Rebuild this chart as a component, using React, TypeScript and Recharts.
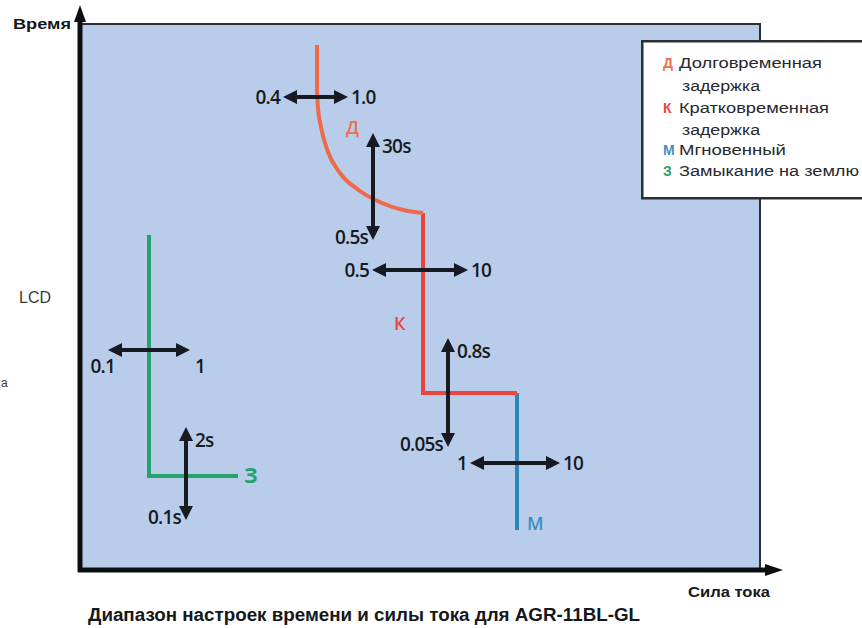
import React from "react";
import {
  ComposedChart,
  Line,
  XAxis,
  YAxis,
  ReferenceArea,
  ReferenceLine,
  ReferenceDot,
  Legend,
} from "recharts";

// schematic units: x = current (0..680), y = time (0..546)
const longDelayTop = [
  { x: 237, y: 525 },
  { x: 237, y: 478 },
];
const longDelayCurve = [
  { x: 237, y: 478 },
  { x: 238, y: 462 },
  { x: 241, y: 443 },
  { x: 248, y: 418 },
  { x: 260, y: 397 },
  { x: 280, y: 379 },
  { x: 302, y: 367 },
  { x: 323, y: 360 },
  { x: 343, y: 357 },
];
const shortDelay = [
  { x: 343, y: 357 },
  { x: 343, y: 177 },
  { x: 437, y: 177 },
];
const instant = [
  { x: 437, y: 177 },
  { x: 437, y: 40 },
];
const groundFault = [
  { x: 69, y: 335 },
  { x: 69, y: 94 },
  { x: 158, y: 94 },
];

// setting ranges: from = low value, to = high value
const rangeArrows = [
  { x1: 203, y1: 473, x2: 268, y2: 473, from: "0.4", to: "1.0", below: false },
  { x1: 293, y1: 330, x2: 293, y2: 437, from: "0.5s", to: "30s", below: false },
  { x1: 292, y1: 300, x2: 388, y2: 300, from: "0.5", to: "10", below: false },
  { x1: 368, y1: 123, x2: 368, y2: 232, from: "0.05s", to: "0.8s", below: false },
  { x1: 390, y1: 107, x2: 480, y2: 107, from: "1", to: "10", below: false },
  { x1: 28, y1: 220, x2: 110, y2: 220, from: "0.1", to: "1", below: true },
  { x1: 106, y1: 50, x2: 106, y2: 143, from: "0.1s", to: "2s", below: false },
];

const curveTags = [
  { x: 266, y: 443, text: "Д", color: "#ef6f50" },
  { x: 314, y: 247, text: "К", color: "#e8453c" },
  { x: 447, y: 47, text: "М", color: "#3f8fc4" },
  { x: 164, y: 94, text: "З", color: "#23a26e" },
];

const legendItems = [
  { tag: "Д", color: "#ef6f50", lines: ["Долговременная", "задержка"] },
  { tag: "К", color: "#e8453c", lines: ["Кратковременная", "задержка"] },
  { tag: "М", color: "#3f8fc4", lines: ["Мгновенный"] },
  { tag: "З", color: "#23a26e", lines: ["Замыкание на землю"] },
];
const legendWidths: Record<string, number> = {
  "Долговременная": 143,
  "задержка": 78,
  "Кратковременная": 150,
  "Мгновенный": 107,
  "Замыкание на землю": 180,
};

const INK = "#171a22";
const numFont = "'Open Sans', sans-serif";
const sans = "'Liberation Sans', Arial, sans-serif";

const NumText = ({ x, y, anchor, children }: any) => (
  <text x={x} y={y} textAnchor={anchor} fill={INK} fontSize={19} fontWeight={600} fontFamily={numFont} letterSpacing={-0.8}>
    {children}
  </text>
);

const ArrowShape = (props: any) => {
  const { x1, y1, x2, y2, arrow } = props;
  const horiz = Math.abs(y1 - y2) < 1;
  const head = 14;
  const hw = 7;
  let body, heads, labels;
  if (horiz) {
    const y = y1;
    const l = Math.min(x1, x2);
    const r = Math.max(x1, x2);
    body = <line x1={l + head - 1} y1={y} x2={r - head + 1} y2={y} stroke={INK} strokeWidth={4} />;
    heads = (
      <>
        <polygon points={`${l},${y} ${l + head},${y - hw} ${l + head},${y + hw}`} fill={INK} />
        <polygon points={`${r},${y} ${r - head},${y - hw} ${r - head},${y + hw}`} fill={INK} />
      </>
    );
    const dy = arrow.below ? 23 : 7;
    labels = (
      <>
        <NumText x={arrow.below ? l + 7 : l - 3} y={y + dy} anchor="end">{arrow.from}</NumText>
        <NumText x={arrow.below ? r + 5 : r + 3} y={y + dy} anchor="start">{arrow.to}</NumText>
      </>
    );
  } else {
    const x = x1;
    const t = Math.min(y1, y2);
    const b = Math.max(y1, y2);
    body = <line x1={x} y1={t + head - 1} x2={x} y2={b - head + 1} stroke={INK} strokeWidth={4} />;
    heads = (
      <>
        <polygon points={`${x},${t} ${x - hw},${t + head} ${x + hw},${t + head}`} fill={INK} />
        <polygon points={`${x},${b} ${x - hw},${b - head} ${x + hw},${b - head}`} fill={INK} />
      </>
    );
    labels = (
      <>
        <NumText x={x + 9} y={t + 20} anchor="start">{arrow.to}</NumText>
        <NumText x={x - 5} y={b + 4} anchor="end">{arrow.from}</NumText>
      </>
    );
  }
  return (
    <g>
      {body}
      {heads}
      {labels}
    </g>
  );
};

const AxisArrow = (props: any) => {
  const { x1, y1, x2, y2 } = props;
  const vertical = Math.abs(x1 - x2) < 1;
  if (vertical) {
    const t = Math.min(y1, y2);
    const b = Math.max(y1, y2);
    return (
      <g>
        <line x1={x1} y1={t + 14} x2={x1} y2={b + 2} stroke="#0c0e12" strokeWidth={5} />
        <polygon points={`${x1},${t} ${x1 - 6},${t + 17} ${x1 + 6},${t + 17}`} fill="#0c0e12" />
      </g>
    );
  }
  const l = Math.min(x1, x2);
  const r = Math.max(x1, x2);
  return (
    <g>
      <line x1={l - 2} y1={y1} x2={r - 14} y2={y1} stroke="#0c0e12" strokeWidth={5} />
      <polygon points={`${r},${y1} ${r - 18},${y1 - 6} ${r - 18},${y1 + 6}`} fill="#0c0e12" />
    </g>
  );
};

const TagLabel = (props: any) => {
  const { cx, cy, tag } = props;
  const bold = tag.text === "З";
  return (
    <text
      x={cx}
      y={cy + 7}
      fill={tag.color}
      fontSize={bold ? 21 : 18}
      fontWeight={bold ? 700 : 600}
      fontFamily={numFont}
      textAnchor="start"
    >
      {tag.text}
    </text>
  );
};

const LegendBox = () => {
  let row = 0;
  const baselines = [28, 51, 73, 95, 115, 136];
  return (
    <svg width={230} height={162} style={{ display: "block" }}>
      <rect x={1.25} y={1.25} width={250} height={157} fill="#fff" stroke="#2b2e35" strokeWidth={2.5} />
      {legendItems.map((it) =>
        it.lines.map((ln, i) => {
          const y = baselines[row++];
          return (
            <g key={ln + y}>
              {i === 0 && (
                <text x={22} y={y} fill={it.color} fontSize={14} fontWeight={700} fontFamily={sans}>
                  {it.tag}
                </text>
              )}
              <text
                x={i === 0 ? 38 : 41}
                y={y}
                fill="#26282d"
                fontSize={14}
                fontFamily={sans}
                textLength={legendWidths[ln]}
                lengthAdjust="spacingAndGlyphs"
              >
                {ln}
              </text>
            </g>
          );
        })
      )}
    </svg>
  );
};

export default function App() {
  return (
    <div style={{ position: "absolute", left: 0, top: 0, width: 862, height: 628, background: "#fff", overflow: "hidden" }}>
      <ComposedChart width={862} height={628} margin={{ top: 24, right: 102, bottom: 58, left: 80 }}>
        <XAxis type="number" dataKey="x" domain={[0, 680]} hide allowDataOverflow />
        <YAxis type="number" dataKey="y" domain={[0, 546]} hide allowDataOverflow />
        <ReferenceArea x1={0} x2={680} y1={0} y2={546} fill="#b9cdea" fillOpacity={1} stroke="#2b2e35" strokeWidth={2} ifOverflow="visible" />
        <Legend
          layout="horizontal"
          verticalAlign="middle"
          align="center"
          content={() => <LegendBox />}
          wrapperStyle={{ position: "absolute", left: 641, top: 40, width: 230, height: 162 }}
        />
        <Line data={groundFault} dataKey="y" type="linear" stroke="#23a26e" strokeWidth={4} dot={false} isAnimationActive={false} />
        <Line data={instant} dataKey="y" type="linear" stroke="#2a88b5" strokeWidth={4} dot={false} isAnimationActive={false} />
        <Line data={shortDelay} dataKey="y" type="linear" stroke="#e8453c" strokeWidth={4} dot={false} isAnimationActive={false} />
        <Line data={longDelayTop} dataKey="y" type="linear" stroke="#ef6a4a" strokeWidth={4} dot={false} isAnimationActive={false} />
        <Line data={longDelayCurve} dataKey="y" type="monotoneX" stroke="#ef6a4a" strokeWidth={4} dot={false} isAnimationActive={false} />
        {rangeArrows.map((a, i) => (
          <ReferenceLine
            key={i}
            segment={[
              { x: a.x1, y: a.y1 },
              { x: a.x2, y: a.y2 },
            ]}
            ifOverflow="visible"
            shape={(p: any) => <ArrowShape {...p} arrow={a} />}
          />
        ))}
        {curveTags.map((t) => (
          <ReferenceDot key={t.text} x={t.x} y={t.y} r={0} ifOverflow="visible" shape={(p: any) => <TagLabel {...p} tag={t} />} />
        ))}
        <ReferenceLine segment={[{ x: 0, y: 0 }, { x: 0, y: 565 }]} ifOverflow="visible" shape={(p: any) => <AxisArrow {...p} />} />
        <ReferenceLine segment={[{ x: 0, y: 0 }, { x: 703, y: 0 }]} ifOverflow="visible" shape={(p: any) => <AxisArrow {...p} />} />
      </ComposedChart>
      <svg width={862} height={628} style={{ position: "absolute", left: 0, top: 0, pointerEvents: "none" }}>
        <text x={71} y={29} textAnchor="end" fontSize={14} fontWeight={700} fill="#15171c" fontFamily={sans} textLength={58} lengthAdjust="spacingAndGlyphs">
          Время
        </text>
        <text x={688} y={597} fontSize={15} fontWeight={700} fill="#15171c" fontFamily={sans} textLength={82} lengthAdjust="spacingAndGlyphs">
          Сила тока
        </text>
        <text x={88} y={621} fontSize={18} fontWeight={700} fill="#15171c" fontFamily={sans} textLength={552} lengthAdjust="spacingAndGlyphs">
          Диапазон настроек времени и силы тока для AGR-11BL-GL
        </text>
        <text x={19} y={303} fontSize={16} fill="#3a3a3a" fontFamily={sans}>
          LCD
        </text>
        <text x={1} y={387} fontSize={12} fill="#3a3a3a" fontFamily={sans}>
          а
        </text>
      </svg>
    </div>
  );
}
